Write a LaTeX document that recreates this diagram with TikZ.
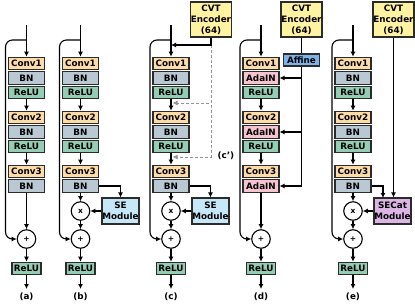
\documentclass[tikz,border=0pt]{standalone}
\usepackage{fontspec}
\setmainfont{DejaVu Sans}
\usetikzlibrary{arrows.meta,calc}
\definecolor{edgec}{HTML}{2B2B2B}
\definecolor{convc}{HTML}{FDDCA8}
\definecolor{bnc}{HTML}{BAC8D3}
\definecolor{reluc}{HTML}{93CDB3}
\definecolor{adac}{HTML}{F6C3D0}
\definecolor{affc}{HTML}{7EB3E8}
\definecolor{sec}{HTML}{C6E7F8}
\definecolor{secatc}{HTML}{DDB5E5}
\definecolor{cvtc}{HTML}{FFF2A0}
\tikzset{
 blk/.style={draw=edgec, line width=1.1pt, minimum width=36pt, minimum height=12.5pt, inner sep=0pt, font=\fontsize{8.8}{10.5}\selectfont\bfseries, text=black},
 convb/.style={blk, fill=convc},
 bnb/.style={blk, fill=bnc},
 relub/.style={blk, fill=reluc},
 adab/.style={blk, fill=adac},
 opn/.style={circle, draw=black, line width=1.1pt, fill=white, minimum size=18.5pt, inner sep=0pt, font=\fontsize{7.5}{8}\selectfont\bfseries},
 lnk/.style={line width=1.1pt, draw=black},
 arr/.style={lnk, -{Latex[length=5pt,width=5pt]}},
 dasharr/.style={line width=1pt, draw=gray!85, dash pattern=on 3pt off 2pt, -{Latex[length=5pt,width=5pt]}},
 lab/.style={font=\fontsize{8.8}{10}\selectfont\bfseries},
 modb/.style={blk, minimum width=37pt, minimum height=26pt, align=center},
 cvtb/.style={blk, fill=cvtc, minimum width=41pt, minimum height=35pt, align=center, font=\fontsize{8.8}{11}\selectfont\bfseries}
}
\newcommand{\resstack}[4]{%
 \coordinate (#1in) at (#2,25);
 \coordinate (#1sk) at (#2,40);
 \coordinate (#1sa) at ({#2-21},40);
 \coordinate (#1sb) at ({#2-21},239);
 \node[convb] (#1c1) at (#2,63.5) {Conv1};
 \node[#3] (#1n1) at (#2,78) {#4};
 \node[relub] (#1r1) at (#2,92.5) {ReLU};
 \node[convb] (#1c2) at (#2,117.5) {Conv2};
 \node[#3] (#1n2) at (#2,132) {#4};
 \node[relub] (#1r2) at (#2,146.5) {ReLU};
 \node[convb] (#1c3) at (#2,171.5) {Conv3};
 \node[#3] (#1n3) at (#2,186) {#4};
 \node[opn] (#1p) at (#2,239) {+};
 \node[relub, minimum width=29pt] (#1rf) at (#2,268.5) {ReLU};
 \coordinate (#1out) at (#2,289);
 \node[lab] (#1lab) at (#2,296.5) {(#1)};
 \draw[arr] (#1in) -- (#1c1);
 \draw[arr] (#1r1) -- (#1c2);
 \draw[arr] (#1r2) -- (#1c3);
 \draw[arr] (#1p) -- (#1rf);
 \draw[arr] (#1rf) -- (#1out);
 \draw[arr, rounded corners=7pt] (#1sk) -- (#1sa) -- (#1sb) -- (#1p);
}
\begin{document}
\begin{tikzpicture}[x=1pt, y=-1pt]
\useasboundingbox[fill=white] (0,0) rectangle (415,303);
% (a)
\resstack{a}{26.5}{bnb}{BN}
\draw[arr] (an3) -- (ap);
% (b)
\resstack{b}{80.5}{bnb}{BN}
\node[opn] (bx) at (80.5,211) {x};
\node[modb, fill=sec] (bse) at (120.5,211) {SE\\Module};
\draw[arr] (bn3) -- (bx);
\draw[arr] (bx) -- (bp);
\draw[arr] (bn3) -| (bse);
\draw[arr] (bse) -- (bx);
% (c)
\resstack{c}{171}{bnb}{BN}
\node[opn] (cx) at (171,211) {x};
\node[modb, fill=sec] (cse) at (210.5,211) {SE\\Module};
\draw[arr] (cn3) -- (cx);
\draw[arr] (cx) -- (cp);
\draw[arr] (cn3) -| (cse);
\draw[arr] (cse) -- (cx);
\node[cvtb] (cvtc) at (211,19.5) {CVT\\Encoder\\(64)};
\coordinate (cin) at (171,45);
\coordinate (cj) at (211,45);
\coordinate (cd1) at (172.5,103);
\coordinate (cd2) at (172.5,157);
\draw[dasharr] (cj) |- (cd1);
\draw[dasharr] (cj) |- (cd2);
\draw[arr] (cvtc.south) |- (cin);
\node[lab, anchor=west] (cprime) at (214,155.5) {(c')};
% (d)
\resstack{d}{261}{adab}{AdaIN}
\draw[arr] (dn3) -- (dp);
\node[cvtb] (cvtd) at (301.5,19.5) {CVT\\Encoder\\(64)};
\node[blk, fill=affc, minimum width=36pt, minimum height=12pt] (aff) at (301.5,60) {Affine};
\coordinate (dj1) at (301.5,78);
\coordinate (dj2) at (301.5,132);
\coordinate (dj3) at (301.5,186);
\draw[lnk] (cvtd) -- (aff);
\draw[lnk] (aff) -- (dj3);
\draw[arr] (dj1) -- (dn1);
\draw[arr] (dj2) -- (dn2);
\draw[arr] (dj3) -- (dn3);
% (e)
\resstack{e}{353}{bnb}{BN}
\node[opn] (ex) at (353,211) {x};
\node[modb, fill=secatc] (esc) at (392.5,211) {SECat\\Module};
\node[cvtb] (cvte) at (393.5,19.5) {CVT\\Encoder\\(64)};
\coordinate (et) at (383,198);
\draw[arr] (en3) -- (ex);
\draw[arr] (ex) -- (ep);
\draw[arr] (en3) -| (et);
\draw[arr] (cvte.south) -- (cvte.south |- esc.north);
\draw[arr] (esc) -- (ex);
\end{tikzpicture}
\end{document}
